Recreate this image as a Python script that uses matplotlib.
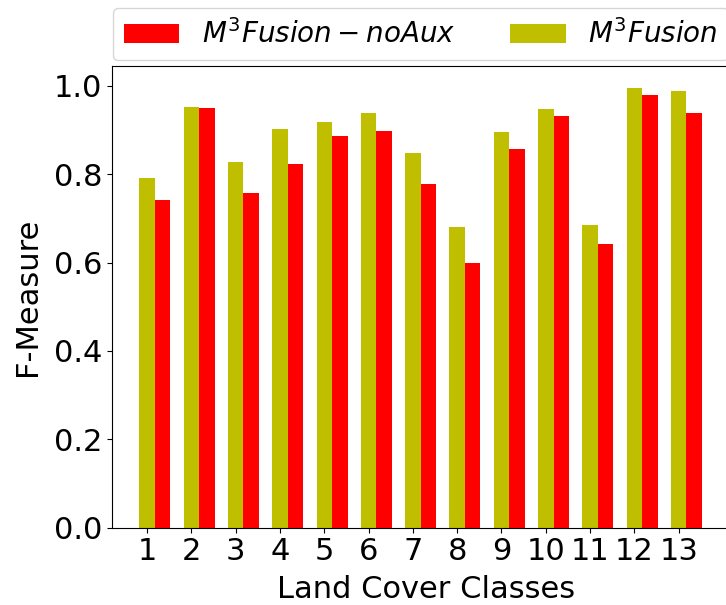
import matplotlib
matplotlib.use('Agg')
import matplotlib.pyplot as plt
import numpy as np

# F-Measure per land cover class
classes = list(range(1, 14))
fusion = [0.791, 0.952, 0.828, 0.902, 0.919, 0.938, 0.848, 0.681, 0.896, 0.947, 0.684, 0.995, 0.989]
fusion_noaux = [0.741, 0.950, 0.758, 0.822, 0.886, 0.897, 0.778, 0.600, 0.857, 0.932, 0.643, 0.979, 0.938]

width = 0.35
ind = np.array(classes)

fig = plt.figure(figsize=(7.26, 6.05), dpi=100)
# axes run past the right edge, like the cropped original
ax = fig.add_axes([0.154, 0.128, 0.865, 0.763])

b_full = ax.bar(ind, fusion, width, color='y')
b_noaux = ax.bar(ind + width, fusion_noaux, width, color='r')

ax.set_xticks(ind)
ax.set_xticklabels([str(c) for c in classes])
ax.set_xlim(0.203, 14.38)
ax.set_ylim(0, 1.045)
ax.set_yticks([0.0, 0.2, 0.4, 0.6, 0.8, 1.0])
ax.tick_params(labelsize=22)
ax.set_xlabel('Land Cover Classes', fontsize=22, labelpad=6)
ax.set_ylabel('F-Measure', fontsize=22, labelpad=8)

fig.legend([b_noaux, b_full], ['$M^3Fusion-noAux$', '$M^3Fusion$'],
           loc='upper left', bbox_to_anchor=(112.7 / 726, 1 - 8.3 / 605),
           borderaxespad=0, ncol=2, fontsize=20)

fig.savefig('out.png', dpi=100)
